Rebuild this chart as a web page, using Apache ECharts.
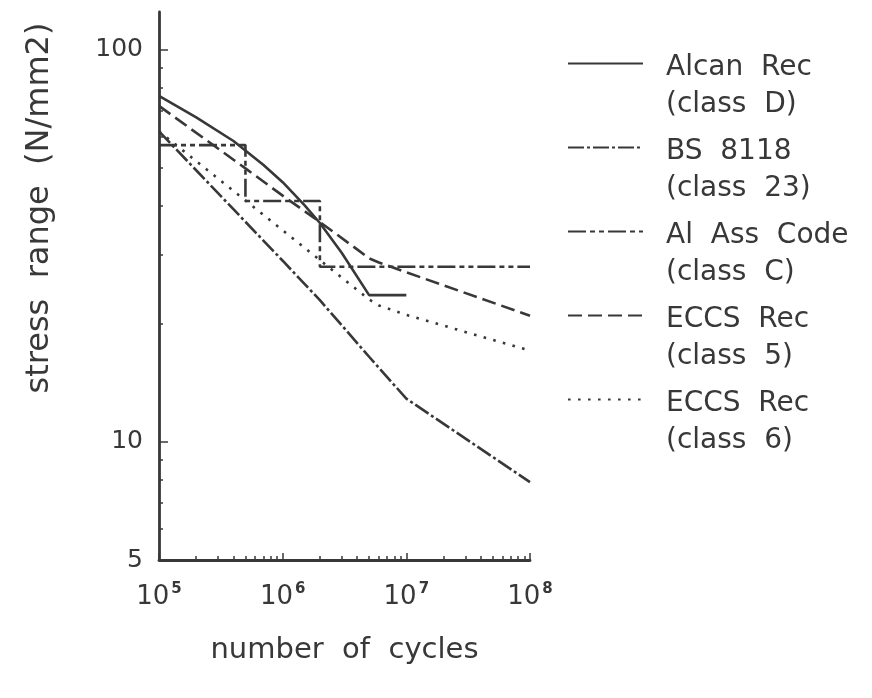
<!DOCTYPE html>
<html>
<head>
<meta charset="utf-8">
<script src="https://cdn.jsdelivr.net/npm/echarts@6/dist/echarts.min.js"></script>
<style>
  html, body { margin: 0; padding: 0; background: #fff; }
  #chart { width: 872px; height: 698px; }
</style>
</head>
<body>
<div id="chart"></div>
<script>
// fatigue design curves, stress range vs cycles (log-log)
const seriesTitles = ['Alcan  Rec', 'BS  8118', 'Al  Ass  Code', 'ECCS  Rec', 'ECCS  Rec'];
const seriesClasses = ['(class  D)', '(class  23)', '(class  C)', '(class  5)', '(class  6)'];

const alcanN = [1e5, 2e5, 4e5, 7e5, 1e6, 1.5e6, 2e6, 3e6, 5e6, 1e7];
const alcanS = [76.4, 67.3, 58.6, 50.9, 46.0, 40.2, 36.2, 30.4, 23.7, 23.7];

const bsN = [1e5, 1e6, 2e6, 5e6, 1e7, 1e8];
const bsS = [62, 29, 23, 16.5, 12.9, 7.9];

const aaN = [1e5, 5e5, 5e5, 2e6, 2e6, 1e8];
const aaS = [57.2, 57.2, 41.2, 41.2, 28.0, 28.0];

const eccs5N = [1e5, 5e5, 1e6, 2e6, 4e6, 5e6, 6e6, 1e7, 1e8];
const eccs5S = [72.0, 49.9, 42.5, 36.4, 31.0, 29.4, 28.7, 27.1, 21.0];

const eccs6N = [1e5, 5e6, 6e6, 1e7, 1e8];
const eccs6S = [62, 23.1, 22.3, 21.1, 17.1];

const xTicks = [1e5, 1e6, 1e7, 1e8];
const xTickExp = ['5', '6', '7', '8'];
const xMinorTicks = [2e5, 3e5, 4e5, 5e5, 6e5, 7e5, 8e5, 9e5,
                     2e6, 3e6, 4e6, 5e6, 6e6, 7e6, 8e6, 9e6,
                     2e7, 3e7, 4e7, 5e7, 6e7, 7e7, 8e7, 9e7];
const yTickLabels = [5, 10, 100];
const yMajorTicks = [10, 100];
const yMinorTicks = [6, 7, 8, 9, 20, 30, 40, 50, 60, 70, 80, 90];

const ink = '#383838';
const font = 'DejaVu Sans';

const pairs = (n, s) => n.map((v, i) => [v, s[i]]);

function curve(i, n, s, dash) {
  return {
    name: seriesTitles[i] + '\n' + seriesClasses[i],
    type: 'line',
    data: pairs(n, s),
    symbol: 'none',
    xAxisIndex: 0,
    yAxisIndex: 0,
    lineStyle: { color: ink, width: 2.6, type: dash },
    itemStyle: { color: ink }
  };
}

const chart = echarts.init(document.getElementById('chart'));

const minorAxis = (ticks) => ({
  axisLine: { show: false },
  axisLabel: { show: false },
  splitLine: { show: false },
  axisTick: { show: true, inside: true, length: 4, lineStyle: { color: ink, width: 1.5 }, customValues: ticks }
});

chart.setOption({
  animation: false,
  backgroundColor: '#fff',
  grid: { left: 159, right: 342, top: 12, bottom: 138 },
  xAxis: [
    {
      type: 'log', min: 1e5, max: 1e8,
      name: 'number  of  cycles',
      nameLocation: 'middle', nameGap: 76,
      nameTextStyle: { fontFamily: font, fontSize: 29, color: ink },
      axisLine: { lineStyle: { color: ink, width: 2.8 } },
      axisTick: { inside: true, length: 7, lineStyle: { color: ink, width: 1.5 }, customValues: xTicks },
      splitLine: { show: false },
      axisLabel: {
        margin: 22,
        customValues: xTicks,
        formatter: (v) => {
          const k = xTicks.findIndex(t => Math.abs(t - v) / t < 1e-6);
          return '{b|10}{s|' + xTickExp[k] + '}';
        },
        rich: {
          b: { fontFamily: font, fontSize: 26, color: ink, lineHeight: 30 },
          s: { fontFamily: font, fontSize: 15, fontWeight: 'bold', color: ink, lineHeight: 16, verticalAlign: 'top', padding: [0, 0, 0, 2] }
        }
      }
    },
    Object.assign({ type: 'log', min: 1e5, max: 1e8, position: 'bottom', gridIndex: 0 }, minorAxis(xMinorTicks))
  ],
  yAxis: [
    {
      type: 'log', min: 5, max: 125,
      axisLine: { lineStyle: { color: ink, width: 2.8 } },
      axisTick: { inside: true, length: 9, lineStyle: { color: ink, width: 1.5 }, customValues: yMajorTicks },
      splitLine: { show: false },
      axisLabel: {
        margin: 16,
        customValues: yTickLabels,
        fontFamily: font, fontSize: 25, color: ink,
        formatter: (v) => String(Math.round(v))
      }
    },
    Object.assign({ type: 'log', min: 5, max: 125, position: 'left', gridIndex: 0 }, minorAxis(yMinorTicks))
  ],
  legend: {
    orient: 'vertical',
    left: 567, top: 21.5,
    padding: 0,
    itemWidth: 75, itemHeight: 10, itemGap: -13,
    itemStyle: { opacity: 0 },
    formatter: (name) => {
      const parts = name.split('\n');
      return '{e| }\n{a|' + parts[0] + '}\n{a|' + parts[1] + '}';
    },
    textStyle: {
      padding: [0, 0, 0, 18],
      rich: {
        e: { fontFamily: font, fontSize: 10, lineHeight: 45 },
        a: { fontFamily: font, fontSize: 28, lineHeight: 37, color: ink }
      }
    },
    data: seriesTitles.map((t, i) => t + '\n' + seriesClasses[i])
  },
  graphic: [
    {
      type: 'text',
      x: 40, y: 208,
      rotation: Math.PI / 2,
      style: { text: 'stress  range  (N/mm2)', font: '32px "DejaVu Sans"', fill: ink, align: 'center', verticalAlign: 'middle' }
    }
  ],
  series: [
    curve(0, alcanN, alcanS, 'solid'),
    curve(1, bsN, bsS, [16, 3, 3, 3]),
    curve(2, aaN, aaS, [18, 4, 5, 4, 5, 4]),
    curve(3, eccs5N, eccs5S, [14, 6]),
    curve(4, eccs6N, eccs6S, [2.6, 7.4])
  ]
});
</script>
</body>
</html>
